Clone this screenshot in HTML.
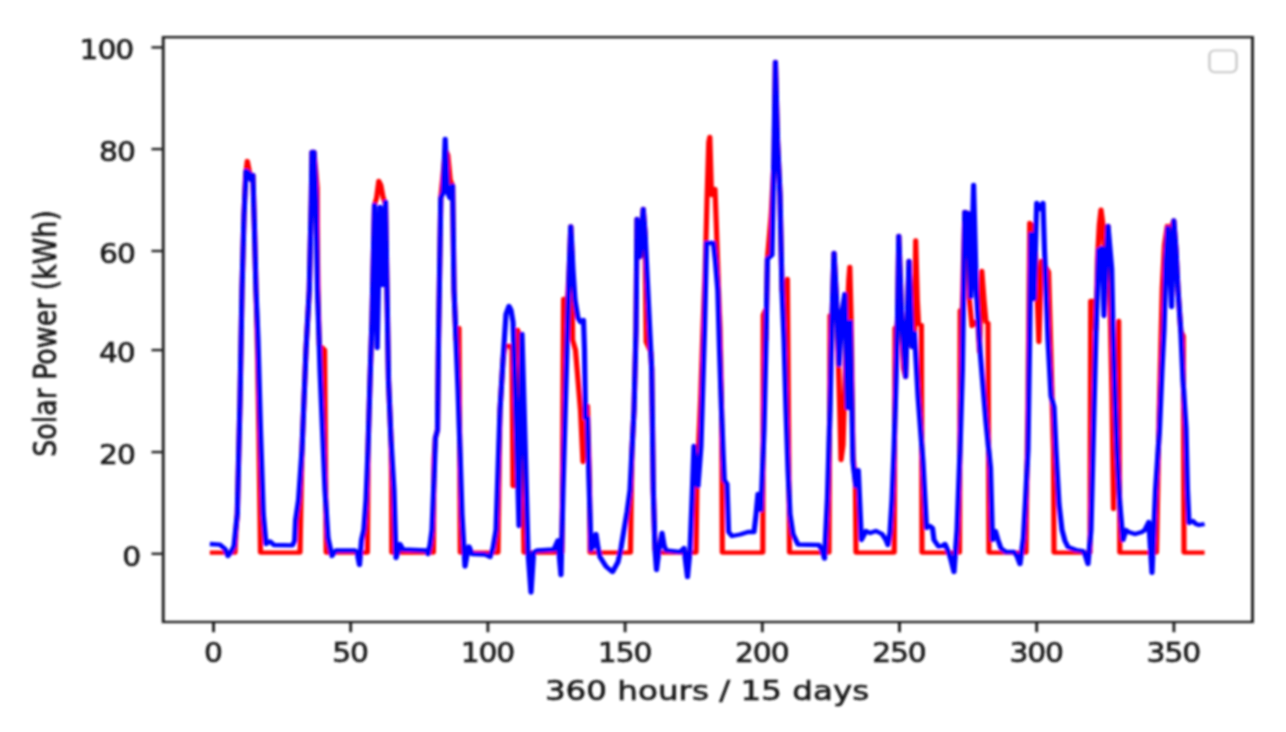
<!DOCTYPE html>
<html lang="en">
<head>
<meta charset="utf-8">
<title>Solar Power - 360 hours / 15 days</title>
<style>
html,body{margin:0;padding:0;background:#fff;}
body{width:1286px;height:732px;overflow:hidden;}
svg{display:block;}
</style>
</head>
<body>
<svg width="1286" height="732" viewBox="0 0 1286 732">
<defs><filter id="bl" x="-2%" y="-2%" width="104%" height="104%"><feGaussianBlur stdDeviation="1.0 0.85"/></filter></defs>
<rect width="1286" height="732" fill="#fff"/>
<g filter="url(#bl)">
<g transform="scale(3.2557,2.6813)">
<polyline points="64.44,206.09 72.18,206.09 72.49,197.67 72.89,191.70 73.72,149.18 74.33,108.16 74.95,80.18 75.41,65.64 75.96,60.05 76.57,63.78 77.10,67.13 77.68,65.27 78.17,85.78 78.63,108.16 79.09,130.53 79.55,164.10 79.86,192.07 80.01,206.09 92.15,206.09 92.45,186.48 92.76,167.83 93.99,130.53 95.00,108.16 95.62,74.59 95.83,56.69 96.45,56.69 97.06,64.89 97.43,70.12 97.55,97.71 97.74,111.89 98.07,128.67 99.70,130.53 100.19,206.09 112.85,206.09 113.03,175.29 113.03,167.83 113.65,141.72 114.26,119.35 115.03,76.46 115.67,73.84 116.35,67.50 116.96,69.00 117.64,73.47 118.25,75.71 118.41,75.34 118.87,108.16 119.33,141.72 120.10,164.10 120.25,177.15 120.34,206.09 133.12,206.09 133.30,171.56 133.73,163.35 134.38,160.37 134.69,126.80 135.39,73.84 136.81,55.94 137.54,57.81 138.28,67.13 139.02,69.18 139.45,108.16 140.06,126.80 140.37,122.70 140.98,122.33 141.38,206.09 152.96,206.09 153.21,182.75 153.58,152.91 154.50,134.26 155.11,129.04 156.65,129.04 157.26,130.53 157.57,181.26 158.28,181.26 158.95,123.07 159.72,125.31 160.33,149.18 160.79,193.94 160.95,206.09 172.62,206.09 173.11,111.51 174.31,111.51 174.83,100.70 175.32,84.44 175.69,95.10 175.88,126.80 176.77,130.53 177.38,139.48 178.30,152.91 179.07,172.30 179.68,164.10 180.45,151.42 181.07,179.02 181.22,206.09 193.66,206.09 193.88,186.48 194.12,167.83 194.74,152.91 195.35,123.07 195.66,81.68 196.58,95.85 197.56,77.95 198.11,86.53 198.33,111.51 198.48,127.55 199.90,131.28 200.17,137.62 200.66,182.75 201.19,205.12 201.37,203.26 201.49,206.09 213.78,206.09 214.09,179.02 215.19,149.18 215.93,122.33 216.60,100.70 217.16,74.59 217.71,52.96 218.02,51.09 218.54,72.73 219.15,71.61 219.61,70.49 220.08,85.78 220.69,108.16 221.15,122.33 221.61,149.18 221.76,178.27 221.86,206.09 234.30,206.09 234.45,117.48 235.13,115.62 235.28,126.80 235.71,96.59 236.88,80.18 237.80,58.55 238.17,23.12 238.81,52.21 239.58,72.73 240.19,108.16 240.96,111.89 241.85,104.05 242.13,149.18 242.50,206.09 254.63,206.09 254.94,117.67 255.49,117.85 255.55,119.35 256.17,94.36 256.93,111.89 257.24,126.80 257.55,136.50 258.01,156.64 258.32,171.56 258.93,165.96 259.54,141.72 260.16,119.35 260.71,104.43 261.02,99.58 261.45,120.09 262.00,169.69 262.74,179.76 262.92,206.09 274.66,206.09 274.90,122.33 275.52,121.58 275.67,119.35 276.07,88.02 276.96,118.60 277.11,126.80 277.51,137.25 278.16,140.60 279.20,97.34 280.12,129.41 280.89,124.19 281.26,89.70 281.75,111.89 282.12,120.84 283.01,121.21 283.20,206.09 294.71,206.09 294.93,115.80 295.57,115.99 296.34,79.07 297.32,79.44 297.69,111.14 298.55,121.58 299.47,120.09 300.40,121.58 300.86,131.28 301.56,101.07 302.24,111.89 302.85,120.09 303.47,120.46 303.77,206.09 315.14,206.09 315.32,186.48 315.75,149.18 316.06,111.89 316.28,83.17 316.98,83.91 317.90,89.51 318.52,108.16 319.10,127.55 319.90,97.34 320.98,99.21 322.08,101.44 322.66,126.80 323.13,147.69 323.59,167.83 323.74,206.09 334.80,206.09 335.01,112.26 336.27,112.26 336.64,123.07 337.10,96.22 337.65,83.91 338.18,78.21 338.79,83.91 339.40,97.71 340.33,84.29 340.94,111.89 341.55,147.69 342.02,189.83 342.78,156.64 343.61,119.72 343.95,206.09 355.22,206.09 355.53,186.48 355.99,156.64 356.61,126.80 357.00,107.41 357.68,91.37 358.54,84.29 359.06,86.53 360.54,82.24 361.21,93.24 361.83,108.16 362.69,123.45 363.45,125.31 363.67,206.09 370.00,206.09" fill="none" stroke="#ff0000" stroke-width="1.6" stroke-linejoin="round" stroke-linecap="butt"/>
<polyline points="64.44,202.89 67.57,203.11 69.11,204.75 70.03,207.36 70.95,205.87 71.87,203.63 72.89,191.70 73.72,149.18 74.33,108.16 74.95,80.18 75.56,63.78 76.48,64.52 77.10,67.13 77.68,65.27 78.17,85.78 78.63,108.16 79.25,126.80 80.01,160.37 80.87,191.70 81.70,202.89 82.93,201.92 84.16,203.26 89.84,203.37 90.49,201.77 90.79,193.94 91.69,186.48 92.76,167.83 93.99,130.53 95.00,108.16 95.62,74.59 95.83,56.69 96.45,56.69 97.06,74.59 97.52,108.16 98.29,137.99 99.06,160.37 99.82,182.75 100.75,200.65 101.97,207.36 103.20,205.31 109.04,205.31 109.65,205.87 110.42,210.72 111.04,201.39 111.74,197.67 112.42,186.48 113.03,167.83 113.65,141.72 114.26,119.35 115.03,76.46 115.86,129.79 116.72,77.20 117.55,106.29 118.41,75.34 118.87,108.16 119.33,141.72 120.10,164.10 121.02,182.75 121.63,208.11 122.25,205.87 122.86,202.89 123.78,204.94 130.85,205.31 131.46,206.62 132.08,203.26 132.69,197.67 133.30,179.02 133.73,163.35 134.38,160.37 134.69,126.80 135.39,73.84 136.13,71.61 136.74,51.84 137.42,71.61 138.22,73.84 139.02,69.18 139.45,108.16 140.06,126.80 140.68,145.45 141.29,167.83 141.90,191.70 142.83,211.28 143.44,206.99 144.06,203.82 144.98,206.62 148.97,206.80 150.51,207.74 151.43,204.38 152.35,197.67 152.96,175.29 153.58,152.91 154.50,134.26 155.42,117.11 156.34,114.12 156.96,115.62 157.57,120.09 158.18,141.72 158.64,160.37 159.41,196.17 160.33,124.57 161.26,164.10 162.18,205.87 163.10,220.97 163.90,206.09 164.94,205.31 170.16,204.94 171.36,201.54 172.31,214.45 172.93,182.75 173.70,149.18 174.31,123.07 174.83,100.70 175.32,84.44 176.00,100.70 176.61,111.89 177.53,118.60 178.30,120.09 179.22,119.35 179.53,130.53 179.84,155.89 180.45,155.89 180.91,179.02 181.53,205.12 182.30,203.26 183.06,199.16 183.68,204.38 184.29,207.74 186.14,211.28 188.13,213.33 189.82,209.60 190.74,204.38 191.66,197.67 192.59,190.95 193.51,182.75 194.12,167.83 194.74,152.91 195.35,123.07 195.66,81.68 196.58,95.85 197.56,77.95 198.11,86.53 199.13,111.89 199.65,124.94 200.17,137.62 200.66,182.75 201.19,205.12 201.65,212.58 202.41,205.12 203.34,198.78 203.95,203.26 204.56,205.31 208.86,205.87 210.09,204.38 211.17,215.19 211.94,205.12 212.55,186.48 213.16,166.34 213.78,175.29 214.39,181.26 215.31,166.34 215.93,141.72 216.39,123.07 217.00,90.63 219.15,90.63 219.77,97.71 220.47,108.16 221.00,130.53 221.61,152.91 222.13,169.69 222.47,179.02 223.30,180.51 223.79,198.41 224.84,199.90 227.29,199.34 229.75,198.41 231.59,198.41 232.21,192.07 232.82,184.24 233.74,190.21 234.67,160.37 235.28,126.80 235.71,96.59 237.12,95.10 237.74,55.94 238.17,23.12 238.81,52.21 239.58,72.73 240.19,108.16 240.81,126.80 241.42,152.91 242.04,175.29 242.65,191.70 243.57,199.16 245.11,203.07 251.56,203.26 252.48,205.12 253.25,208.33 254.14,185.73 254.94,152.91 255.55,119.35 256.17,94.36 256.93,111.89 257.73,136.13 258.62,116.36 259.48,109.65 260.31,152.16 261.17,120.09 262.00,172.30 262.86,181.26 263.63,175.29 264.58,201.39 266.00,198.04 267.22,198.78 269.07,198.04 270.91,199.16 272.14,201.39 272.75,203.26 273.37,198.41 273.98,186.48 274.60,167.83 275.21,141.72 275.67,119.35 276.07,88.02 276.96,118.60 278.16,140.60 279.20,97.34 280.12,129.41 280.89,124.19 281.97,147.69 283.50,172.30 284.58,196.92 285.65,196.17 286.42,196.92 286.88,201.39 288.29,203.82 289.34,203.63 290.26,202.89 291.40,206.09 292.10,208.85 293.02,213.33 293.95,197.67 294.87,167.83 295.60,137.99 296.34,79.07 297.32,79.44 298.18,110.77 299.04,69.00 299.87,108.16 301.01,130.53 302.85,157.39 304.24,174.54 304.85,201.39 305.74,198.04 306.54,201.39 307.46,204.56 309.00,205.87 311.45,205.87 312.38,207.36 313.30,210.35 314.34,200.65 314.99,186.48 315.75,167.83 316.21,130.53 316.68,87.27 317.60,111.51 318.43,75.71 319.44,77.95 320.36,75.71 320.82,93.24 321.28,107.41 321.90,126.80 322.82,147.69 323.74,151.79 324.35,167.83 325.28,187.97 326.20,197.67 327.12,201.77 328.04,204.01 330.50,205.12 332.65,205.50 333.42,207.36 334.18,210.35 335.10,197.67 335.57,175.29 336.03,152.91 336.64,123.07 337.50,93.24 338.48,92.49 339.10,117.85 340.33,84.29 341.46,100.32 341.86,123.07 342.48,147.69 343.09,167.83 343.95,187.97 344.93,201.39 345.85,197.67 346.65,198.41 348.62,199.16 350.77,198.41 351.63,197.67 352.86,194.68 353.84,213.63 354.92,182.75 356.14,160.37 356.91,137.99 357.53,123.07 358.14,96.97 358.76,85.03 359.86,114.50 360.54,82.24 361.21,93.24 361.83,108.16 362.69,123.45 363.36,141.72 364.28,159.62 364.74,182.75 365.21,195.05 366.43,194.31 367.36,195.43 368.28,195.80 370.00,195.43" fill="none" stroke="#0000ff" stroke-width="1.6" stroke-linejoin="round" stroke-linecap="butt"/>
<rect x="50.13" y="13.87" width="334.58" height="218.10" fill="none" stroke="#222222" stroke-width="0.9"/>
<line x1="65.58" y1="231.98" x2="65.58" y2="235.78" stroke="#222222" stroke-width="0.9"/>
<line x1="107.72" y1="231.98" x2="107.72" y2="235.78" stroke="#222222" stroke-width="0.9"/>
<line x1="149.86" y1="231.98" x2="149.86" y2="235.78" stroke="#222222" stroke-width="0.9"/>
<line x1="192.00" y1="231.98" x2="192.00" y2="235.78" stroke="#222222" stroke-width="0.9"/>
<line x1="234.14" y1="231.98" x2="234.14" y2="235.78" stroke="#222222" stroke-width="0.9"/>
<line x1="276.28" y1="231.98" x2="276.28" y2="235.78" stroke="#222222" stroke-width="0.9"/>
<line x1="318.43" y1="231.98" x2="318.43" y2="235.78" stroke="#222222" stroke-width="0.9"/>
<line x1="360.57" y1="231.98" x2="360.57" y2="235.78" stroke="#222222" stroke-width="0.9"/>
<line x1="46.53" y1="206.54" x2="50.13" y2="206.54" stroke="#222222" stroke-width="0.9"/>
<line x1="46.53" y1="168.61" x2="50.13" y2="168.61" stroke="#222222" stroke-width="0.9"/>
<line x1="46.53" y1="130.57" x2="50.13" y2="130.57" stroke="#222222" stroke-width="0.9"/>
<line x1="46.53" y1="93.61" x2="50.13" y2="93.61" stroke="#222222" stroke-width="0.9"/>
<line x1="46.53" y1="55.61" x2="50.13" y2="55.61" stroke="#222222" stroke-width="0.9"/>
<line x1="46.53" y1="17.68" x2="50.13" y2="17.68" stroke="#222222" stroke-width="0.9"/>
<rect x="371.50" y="18.83" width="8.29" height="8.06" rx="1.6" ry="1.8" fill="#fff" stroke="#cccccc" stroke-width="0.8"/>
<g font-family="'DejaVu Sans', 'Liberation Sans', sans-serif" font-size="10" fill="#181818" stroke="#181818" stroke-width="0.22" stroke-linejoin="round">
<text transform="translate(65.40,246.82) scale(0.915,1.02)" text-anchor="middle" letter-spacing="-0.38">0</text>
<text transform="translate(107.54,246.82) scale(0.915,1.02)" text-anchor="middle" letter-spacing="-0.38">50</text>
<text transform="translate(149.69,246.82) scale(0.915,1.02)" text-anchor="middle" letter-spacing="-0.38">100</text>
<text transform="translate(191.83,246.82) scale(0.915,1.02)" text-anchor="middle" letter-spacing="-0.38">150</text>
<text transform="translate(233.97,246.82) scale(0.915,1.02)" text-anchor="middle" letter-spacing="-0.38">200</text>
<text transform="translate(276.11,246.82) scale(0.915,1.02)" text-anchor="middle" letter-spacing="-0.38">250</text>
<text transform="translate(318.25,246.82) scale(0.915,1.02)" text-anchor="middle" letter-spacing="-0.38">300</text>
<text transform="translate(360.39,246.82) scale(0.915,1.02)" text-anchor="middle" letter-spacing="-0.38">350</text>
<text transform="translate(43.02,211.05) scale(0.915,1.02)" text-anchor="end" letter-spacing="-0.38">0</text>
<text transform="translate(41.39,173.12) scale(0.915,1.02)" text-anchor="end" letter-spacing="-0.38">20</text>
<text transform="translate(41.33,135.08) scale(0.915,1.02)" text-anchor="end" letter-spacing="-0.38">40</text>
<text transform="translate(41.39,98.12) scale(0.915,1.02)" text-anchor="end" letter-spacing="-0.38">60</text>
<text transform="translate(41.39,60.12) scale(0.915,1.02)" text-anchor="end" letter-spacing="-0.38">80</text>
<text transform="translate(40.87,22.19) scale(0.915,1.02)" text-anchor="end" letter-spacing="-0.38">100</text>
<text x="217.16" y="261.14" text-anchor="middle">360 hours / 15 days</text>
<text transform="translate(17.20,124.38) rotate(-90)" text-anchor="middle">Solar Power (kWh)</text>
</g>
</g>
</g>
</svg>
</body>
</html>
